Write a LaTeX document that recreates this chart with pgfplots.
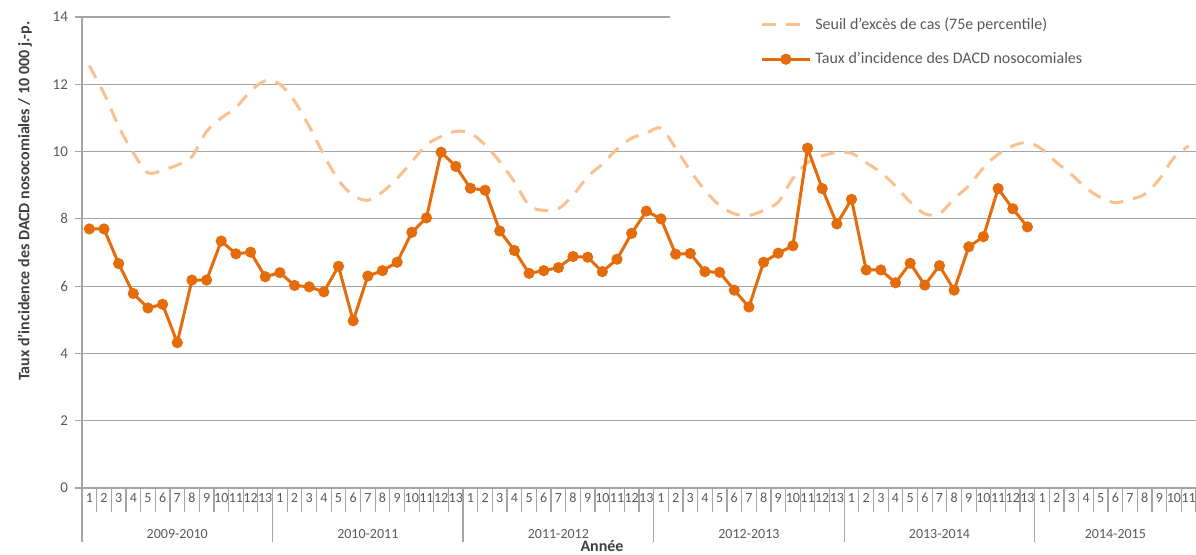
\documentclass[border=0pt]{standalone}
\usepackage{pgfplots}
\usepackage{pgfplotstable}
\pgfplotsset{compat=1.18}
\usepackage{fontspec}
\setmainfont{Carlito}

\definecolor{incid}{RGB}{228,108,10}
\definecolor{seuilc}{RGB}{250,192,144}
\definecolor{axgray}{RGB}{165,165,165}
\definecolor{txt}{RGB}{89,89,89}
\definecolor{lbl}{RGB}{64,64,64}

% taux d'incidence par periode (65 periodes, 2009-2010 a 2013-2014)
\pgfplotstableread{
i val
0 7.70
1 7.70
2 6.67
3 5.78
4 5.35
5 5.46
6 4.32
7 6.18
8 6.18
9 7.34
10 6.96
11 7.01
12 6.28
13 6.40
14 6.02
15 5.98
16 5.83
17 6.59
18 4.97
19 6.30
20 6.46
21 6.71
22 7.60
23 8.03
24 9.98
25 9.56
26 8.91
27 8.85
28 7.64
29 7.06
30 6.38
31 6.46
32 6.55
33 6.88
34 6.86
35 6.43
36 6.80
37 7.57
38 8.23
39 8.00
40 6.95
41 6.97
42 6.43
43 6.41
44 5.88
45 5.38
46 6.71
47 6.98
48 7.20
49 10.10
50 8.90
51 7.85
52 8.58
53 6.48
54 6.48
55 6.10
56 6.68
57 6.03
58 6.61
59 5.88
60 7.17
61 7.47
62 8.90
63 8.30
64 7.76
}\incidtab

% seuil (75e percentile)
\pgfplotstableread{
i val
0 12.55
1 11.73
2 10.75
3 9.96
4 9.37
5 9.45
6 9.60
7 9.85
8 10.60
9 11.00
10 11.30
11 11.80
12 12.10
13 12.00
14 11.50
15 10.75
16 9.90
17 9.15
18 8.70
19 8.55
20 8.80
21 9.20
22 9.70
23 10.20
24 10.45
25 10.60
26 10.55
27 10.20
28 9.70
29 9.10
30 8.40
31 8.25
32 8.30
33 8.70
34 9.25
35 9.63
36 10.07
37 10.40
38 10.55
39 10.70
40 10.10
41 9.43
42 8.85
43 8.40
44 8.15
45 8.10
46 8.25
47 8.50
48 9.20
49 9.67
50 9.87
51 9.97
52 9.95
53 9.67
54 9.38
55 8.98
56 8.50
57 8.15
58 8.15
59 8.60
60 8.98
61 9.52
62 9.92
63 10.17
64 10.27
65 10.07
66 9.67
67 9.32
68 8.92
69 8.63
70 8.48
71 8.58
72 8.73
73 9.18
74 9.82
75 10.17
}\seuiltab

\begin{document}
\begin{tikzpicture}
\useasboundingbox (0,0) rectangle (598pt,277.5pt);
\begin{axis}[
  at={(41pt,33.5pt)}, anchor=south west,
  scale only axis, width=557pt, height=235.5pt,
  xmin=-0.5, xmax=75.5, ymin=0, ymax=14,
  clip mode=individual,
  axis x line*=bottom, axis y line*=left,
  axis line style={axgray, line width=0.6pt},
  tick align=outside,
  major tick length=3.5pt, minor tick length=12pt,
  tick style={axgray, line width=0.6pt},
  ytick={0,2,...,12}, extra y ticks={14}, extra y tick style={grid=none},
  ymajorgrids, major grid style={axgray, line width=0.6pt},
  xtick={0,...,75},
  xtick style={/pgfplots/major tick length=0pt},
  minor xtick={-0.5,0.5,...,75.5},
  xticklabels={1,2,3,4,5,6,{7\\2009-2010},8,9,10,11,12,13,
               1,2,3,4,5,6,{7\\2010-2011},8,9,10,11,12,13,
               1,2,3,4,5,6,{7\\2011-2012},8,9,10,11,12,13,
               1,2,3,4,5,6,{7\\2012-2013},8,9,10,11,12,13,
               1,2,3,4,5,6,{7\\2013-2014},8,9,10,11,12,13,
               1,2,3,4,5,{6\\2014-2015},7,8,9,10,11},
  xticklabel style={font=\fontsize{7}{18}\selectfont, align=center, text=txt, yshift=4.5pt},
  yticklabel style={font=\fontsize{7.5}{9}\selectfont, text=txt},
  /pgf/number format/assume math mode=true,
  ylabel={Taux d'incidence des DACD nosocomiales / 10~000 j.-p.},
  ylabel style={at={(axis description cs:-0.0512,0.609)}, anchor=center,
    font=\bfseries\fontsize{8}{9.6}\selectfont, text=lbl},
  xlabel={Année},
  xlabel style={at={(axis description cs:0.4668,0)}, yshift=-29pt, anchor=center,
    font=\bfseries\fontsize{8}{9.6}\selectfont, text=lbl},
  legend style={at={(axis description cs:0.6086,1)}, anchor=north west, yshift=2pt,
    draw=none, fill=none, inner sep=0pt, row sep=6pt,
    font=\fontsize{8}{9.6}\selectfont, text=txt,
    /tikz/every even column/.append style={column sep=2pt}},
  legend cell align=left,
  legend image code/.code={\draw[mark repeat=2,mark phase=2,#1]
    plot coordinates {(0pt,0pt) (12pt,0pt) (24pt,0pt)};},
]
\addplot[seuilc, line width=1.5pt, dash pattern=on 7pt off 5pt, smooth, tension=0.5]
  table[x=i, y=val]{\seuiltab};
\addlegendentry{Seuil d'excès de cas (75e percentile)}
\addplot[incid, line width=1.5pt, mark=*, mark size=2pt, mark options={solid}]
  table[x=i, y=val]{\incidtab};
\addlegendentry{Taux d'incidence des DACD nosocomiales}
% grille partielle a 14 et separateurs d'annees
\draw[axgray, line width=0.6pt] (axis cs:-0.5,14) -- (axis cs:39.6,14);
\pgfplotsinvokeforeach{-0.5,12.5,25.5,38.5,51.5,64.5}{
  \draw[axgray, line width=0.6pt] (axis cs:#1,0) -- ++(0pt,-27pt);
}
\end{axis}
\end{tikzpicture}
\end{document}
